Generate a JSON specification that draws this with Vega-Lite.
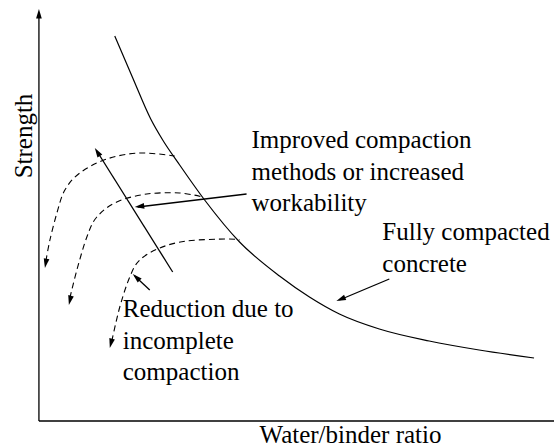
{
  "$schema": "https://vega.github.io/schema/vega-lite/v6.json",
  "width": 555,
  "height": 448,
  "padding": 0,
  "autosize": {"type": "fit", "contains": "padding"},
  "background": "white",
  "config": {"view": {"stroke": null}},
  "datasets": {
    "curve": [
      {"x": 76, "y": 385}, {"x": 94, "y": 343}, {"x": 112, "y": 302}, {"x": 124, "y": 281},
      {"x": 141, "y": 256}, {"x": 166, "y": 221}, {"x": 201, "y": 179}, {"x": 241, "y": 145},
      {"x": 271, "y": 124}, {"x": 301, "y": 107}, {"x": 341, "y": 92}, {"x": 391, "y": 80},
      {"x": 441, "y": 71}, {"x": 496, "y": 63}
    ],
    "dashed": [
      {"c": "upper", "x": 136, "y": 265}, {"c": "upper", "x": 101, "y": 268}, {"c": "upper", "x": 68, "y": 262},
      {"c": "upper", "x": 41, "y": 248}, {"c": "upper", "x": 26, "y": 231}, {"c": "upper", "x": 18, "y": 208},
      {"c": "upper", "x": 11, "y": 181}, {"c": "upper", "x": 7, "y": 160},
      {"c": "middle", "x": 164, "y": 224}, {"c": "middle", "x": 141, "y": 228}, {"c": "middle", "x": 108, "y": 227},
      {"c": "middle", "x": 78, "y": 219}, {"c": "middle", "x": 58, "y": 204}, {"c": "middle", "x": 48, "y": 184},
      {"c": "middle", "x": 38, "y": 151}, {"c": "middle", "x": 31, "y": 123},
      {"c": "lower", "x": 201, "y": 181}, {"c": "lower", "x": 188, "y": 182}, {"c": "lower", "x": 148, "y": 180},
      {"c": "lower", "x": 121, "y": 173}, {"c": "lower", "x": 101, "y": 161}, {"c": "lower", "x": 91, "y": 144},
      {"c": "lower", "x": 81, "y": 114}, {"c": "lower", "x": 73, "y": 80}
    ],
    "rules": [
      {"name": "yaxis", "x": 0, "y": 0, "x2": 0, "y2": 405},
      {"name": "xaxis", "x": 0, "y": 0, "x2": 516, "y2": 0},
      {"name": "improved", "x": 134, "y": 149, "x2": 58, "y2": 270},
      {"name": "workability", "x": 208, "y": 227, "x2": 99, "y2": 214},
      {"name": "reduction", "x": 111, "y": 131, "x2": 96, "y2": 145},
      {"name": "concrete", "x": 351, "y": 142, "x2": 301, "y2": 121}
    ],
    "heads": [
      {"name": "yaxis", "x": 0, "y": 412, "dir": 0},
      {"name": "improved", "x": 56, "y": 273, "dir": -32.2},
      {"name": "workability", "x": 96, "y": 214, "dir": -96.6},
      {"name": "reduction", "x": 94, "y": 147, "dir": -46.7},
      {"name": "concrete", "x": 298, "y": 120, "dir": -112.5},
      {"name": "upper", "x": 6, "y": 153, "dir": -170},
      {"name": "middle", "x": 30, "y": 116, "dir": -167},
      {"name": "lower", "x": 71, "y": 73, "dir": -166}
    ],
    "labels": [
      {"text": "Improved compaction", "x": 213, "y": 273},
      {"text": "methods or increased", "x": 213, "y": 241},
      {"text": "workability", "x": 213, "y": 210},
      {"text": "Fully compacted", "x": 344, "y": 181},
      {"text": "concrete", "x": 344, "y": 149},
      {"text": "Reduction due to", "x": 84, "y": 104},
      {"text": "incomplete", "x": 84, "y": 72},
      {"text": "compaction", "x": 84, "y": 41},
      {"text": "Water/binder ratio", "x": 221, "y": -22}
    ],
    "ylabel": [
      {"text": "Strength", "x": -7, "y": 285}
    ]
  },
  "encoding": {
    "x": {"field": "x", "type": "quantitative", "scale": {"domain": [-39, 516], "nice": false, "zero": false}, "axis": null},
    "y": {"field": "y", "type": "quantitative", "scale": {"domain": [-27, 421], "nice": false, "zero": false}, "axis": null}
  },
  "layer": [
    {
      "data": {"name": "curve"},
      "mark": {"type": "line", "color": "black", "strokeWidth": 1.2, "interpolate": "monotone"}
    },
    {
      "data": {"name": "dashed"},
      "mark": {"type": "line", "color": "black", "strokeWidth": 1.1, "strokeDash": [6, 4], "interpolate": "cardinal"},
      "encoding": {"detail": {"field": "c"}}
    },
    {
      "data": {"name": "rules"},
      "mark": {"type": "rule", "color": "black", "strokeWidth": 1.3},
      "encoding": {
        "x2": {"field": "x2"},
        "y2": {"field": "y2"}
      }
    },
    {
      "data": {"name": "heads"},
      "mark": {"type": "point", "filled": true, "color": "black", "opacity": 1, "size": 90, "shape": "M0,0L-0.6,2L0.6,2Z"},
      "encoding": {
        "angle": {"field": "dir", "type": "quantitative", "scale": null}
      }
    },
    {
      "data": {"name": "labels"},
      "mark": {"type": "text", "align": "left", "baseline": "alphabetic", "font": "Liberation Serif", "fontSize": 25, "color": "black"},
      "encoding": {"text": {"field": "text"}}
    },
    {
      "data": {"name": "ylabel"},
      "mark": {"type": "text", "align": "center", "baseline": "alphabetic", "angle": 270, "font": "Liberation Serif", "fontSize": 25, "color": "black"},
      "encoding": {"text": {"field": "text"}}
    }
  ]
}
